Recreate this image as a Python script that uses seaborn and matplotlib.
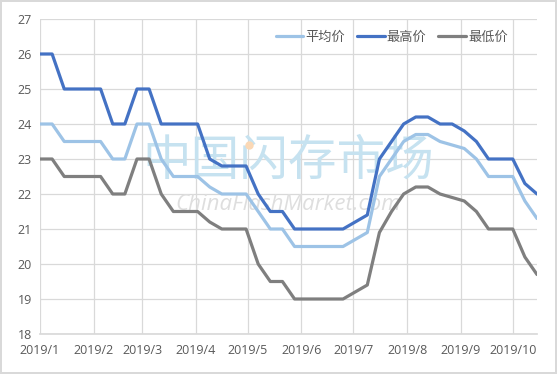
"""
Weekly price trend (2019/1 - 2019/10): average, high and low price lines.
"""

import pandas as pd
import seaborn as sns
from matplotlib import pyplot as plt

# weekly observations, starting 2019-01-01
start_date = "2019-01-01"
n_weeks = 42

avg_price = [24.0, 24.0, 23.5, 23.5, 23.5, 23.5, 23.0, 23.0, 24.0, 24.0,
             23.0, 22.5, 22.5, 22.5, 22.2, 22.0, 22.0, 22.0, 21.5, 21.0,
             21.0, 20.5, 20.5, 20.5, 20.5, 20.5, 20.7, 20.9, 22.5, 23.0,
             23.5, 23.7, 23.7, 23.5, 23.4, 23.3, 23.0, 22.5, 22.5, 22.5,
             21.8, 21.3]
high_price = [26.0, 26.0, 25.0, 25.0, 25.0, 25.0, 24.0, 24.0, 25.0, 25.0,
              24.0, 24.0, 24.0, 24.0, 23.0, 22.8, 22.8, 22.8, 22.0, 21.5,
              21.5, 21.0, 21.0, 21.0, 21.0, 21.0, 21.2, 21.4, 23.0, 23.5,
              24.0, 24.2, 24.2, 24.0, 24.0, 23.8, 23.5, 23.0, 23.0, 23.0,
              22.3, 22.0]
low_price = [23.0, 23.0, 22.5, 22.5, 22.5, 22.5, 22.0, 22.0, 23.0, 23.0,
             22.0, 21.5, 21.5, 21.5, 21.2, 21.0, 21.0, 21.0, 20.0, 19.5,
             19.5, 19.0, 19.0, 19.0, 19.0, 19.0, 19.2, 19.4, 20.9, 21.5,
             22.0, 22.2, 22.2, 22.0, 21.9, 21.8, 21.5, 21.0, 21.0, 21.0,
             20.2, 19.7]

series_names = ["平均价", "最高价", "最低价"]
series_colors = ["#9DC3E6", "#4472C4", "#7F7F7F"]

month_ticks = pd.date_range("2019-01-01", "2019-10-01", freq="MS")
month_labels = ["2019/1", "2019/2", "2019/3", "2019/4", "2019/5",
                "2019/6", "2019/7", "2019/8", "2019/9", "2019/10"]
y_ticks = [18, 19, 20, 21, 22, 23, 24, 25, 26, 27]

# build long-form frame for seaborn
dates = pd.date_range(start_date, periods=n_weeks, freq="7D")
df = pd.concat(
    [
        pd.DataFrame({"date": dates, "price": vals, "series": name})
        for name, vals in zip(series_names, [avg_price, high_price, low_price])
    ],
    ignore_index=True,
)

sns.set_theme(style="white")
plt.rcParams["font.family"] = ["Open Sans", "Noto Sans CJK SC", "DejaVu Sans"]

fig = plt.figure(figsize=(5.57, 3.74), dpi=100)
fig.patch.set_edgecolor("#d9d9d9")
fig.patch.set_linewidth(1.5)
ax = fig.add_axes([40 / 557, 1 - 334 / 374, 497 / 557, 315 / 374])

# grid
ax.set_axisbelow(True)
ax.grid(True, color="#d9d9d9", linewidth=0.9)

sns.lineplot(
    data=df,
    x="date",
    y="price",
    hue="series",
    palette=dict(zip(series_names, series_colors)),
    linewidth=2.3,
    ax=ax,
    zorder=3,
)

# watermark
ax.text(0.5, 0.548, "中国闪存市场", transform=ax.transAxes, ha="center",
        va="center", fontsize=35, color="#c6e2f0", fontweight="light",
        family=["Noto Sans CJK SC"], zorder=2)
ax.text(0.5, 0.41, "ChinaFlashMarket.com", transform=ax.transAxes,
        ha="center", va="center", fontsize=16, color="#dedede",
        style="italic", zorder=2)
ax.plot([0.42], [0.6], transform=ax.transAxes, marker="o", markersize=5,
        color="#fbd8b5", zorder=2)

ax.set_xlim(dates[0], dates[-1])
ax.set_ylim(18, 27)
ax.set_yticks(y_ticks)
ax.set_xticks(month_ticks)
ax.set_xticklabels(month_labels)
ax.set_xlabel("")
ax.set_ylabel("")
ax.tick_params(axis="both", labelsize=9, colors="#595959")
ax.tick_params(axis="x", length=3, color="#d9d9d9", pad=4)
ax.tick_params(axis="y", length=0, pad=6)

for side in ["top", "right", "left"]:
    ax.spines[side].set_visible(False)
ax.spines["bottom"].set_color("#d9d9d9")

leg = ax.legend(
    loc="upper right",
    bbox_to_anchor=(0.965, 1.0),
    ncol=3,
    frameon=False,
    fontsize=9.5,
    handlelength=2.1,
    handletextpad=0.15,
    columnspacing=0.9,
)
for text in leg.get_texts():
    text.set_color("#595959")

plt.savefig("out.png", dpi=100)
